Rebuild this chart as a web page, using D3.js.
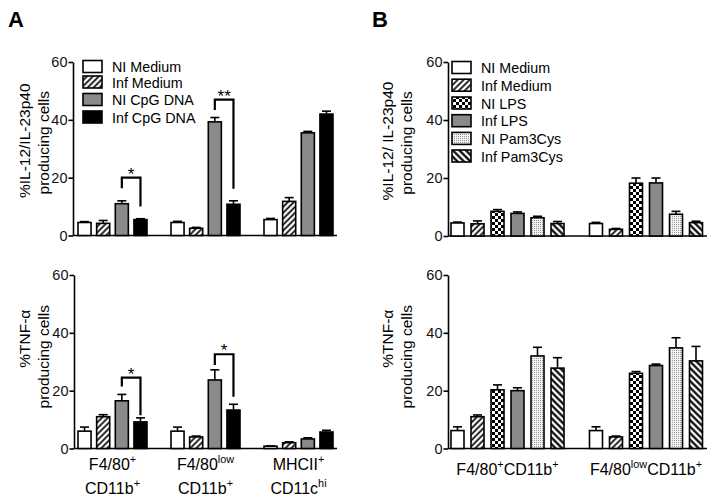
<!DOCTYPE html>
<html><head><meta charset="utf-8">
<script src="https://cdn.jsdelivr.net/npm/d3@7"></script>
<style>
html,body{margin:0;padding:0;background:#fff;}
svg{display:block;font-family:"Liberation Sans",Arial,Helvetica,sans-serif;}
</style></head>
<body><div id="chart"></div>
<script>
// ---------- DATA ----------
const yTicks = [0, 20, 40, 60];

const seriesA = ["NI Medium", "Inf Medium", "NI CpG DNA", "Inf CpG DNA"];
const fillsA = ["white", "hatchF", "grey", "black"];
const groupsA = ["F4/80+ CD11b+", "F4/80low CD11b+", "MHCII+ CD11chi"];
const groupLabelsA = [
  [[["F4/80",""],["+","sup"]], [["CD11b",""],["+","sup"]]],
  [[["F4/80",""],["low","sup"]], [["CD11b",""],["+","sup"]]],
  [[["MHCII",""],["+","sup"]], [["CD11c",""],["hi","sup"]]]
];
// per group, per series
const il12A_mean = [[4.5, 4.2, 11.0, 5.5], [4.5, 2.5, 39.3, 10.8], [5.5, 11.8, 35.5, 42.0]];
const il12A_err  = [[0.3, 1.0, 1.0, 0.3], [0.4, 0.3, 1.5, 1.2], [0.4, 1.3, 0.5, 1.0]];
const tnfA_mean  = [[6.0, 11.0, 16.5, 9.2], [6.0, 4.0, 23.7, 13.3], [0.8, 2.0, 3.3, 5.7]];
const tnfA_err   = [[1.4, 0.7, 2.2, 1.4], [1.4, 0.3, 3.5, 2.0], [0.1, 0.3, 0.4, 0.6]];
// significance brackets: group, bar a, bar b, top, left-leg end, right-leg end, label
const il12A_sig = [[0, 2, 3, 20.0, 16.3, 10.0, "*"], [1, 2, 3, 47.0, 43.4, 16.2, "**"]];
const tnfA_sig  = [[0, 2, 3, 24.5, 21.4, 11.5, "*"], [1, 2, 3, 32.6, 28.9, 17.9, "*"]];

const seriesB = ["NI Medium", "Inf Medium", "NI LPS", "Inf LPS", "NI Pam3Cys", "Inf Pam3Cys"];
const fillsB = ["white", "hatchF", "checker", "grey", "dots", "hatchB"];
const groupsB = ["F4/80+CD11b+", "F4/80lowCD11b+"];
const groupLabelsB = [
  [[["F4/80",""],["+","sup"],["CD11b",""],["+","sup"]]],
  [[["F4/80",""],["low","sup"],["CD11b",""],["+","sup"]]]
];
const il12B_mean = [[4.5, 4.2, 8.5, 7.8, 6.3, 4.3], [4.3, 2.3, 18.2, 18.3, 7.5, 4.6]];
const il12B_err  = [[0.3, 1.0, 0.6, 0.5, 0.5, 0.7], [0.4, 0.3, 1.8, 1.7, 1.0, 0.5]];
const tnfB_mean  = [[6.2, 11.0, 20.3, 20.0, 32.0, 27.8], [6.2, 4.0, 26.0, 28.7, 34.8, 30.3]];
const tnfB_err   = [[1.3, 0.6, 1.7, 1.0, 3.0, 3.6], [1.3, 0.3, 0.6, 0.5, 3.5, 5.0]];

// ---------- DRAW ----------
const W = 713, H = 500;
const svg = d3.select("#chart").append("svg").attr("width", W).attr("height", H);
const defs = svg.append("defs");

function hatch(id, angle, size, sw) {
  const p = defs.append("pattern").attr("id", id).attr("patternUnits", "userSpaceOnUse")
    .attr("width", size).attr("height", size).attr("patternTransform", `rotate(${angle})`);
  p.append("rect").attr("width", size).attr("height", size).attr("fill", "white");
  p.append("line").attr("x1", size / 2).attr("x2", size / 2).attr("y1", -1).attr("y2", size + 1)
    .attr("stroke", "black").attr("stroke-width", sw);
}
hatch("hatchF", 45, 4.2, 1.7);
hatch("hatchB", -45, 4.6, 2.2);
{
  const p = defs.append("pattern").attr("id", "checker").attr("patternUnits", "userSpaceOnUse")
    .attr("width", 6).attr("height", 6);
  p.append("rect").attr("width", 6).attr("height", 6).attr("fill", "white");
  p.append("rect").attr("width", 3).attr("height", 3).attr("fill", "black");
  p.append("rect").attr("x", 3).attr("y", 3).attr("width", 3).attr("height", 3).attr("fill", "black");
}
{
  const p = defs.append("pattern").attr("id", "dots").attr("patternUnits", "userSpaceOnUse")
    .attr("width", 2).attr("height", 2);
  p.append("rect").attr("width", 2).attr("height", 2).attr("fill", "#f2f2f2");
  p.append("rect").attr("width", 1).attr("height", 1).attr("fill", "#9a9a9a");
}
function fillOf(k) {
  if (k === "white") return "white";
  if (k === "grey") return "#8a8a8a";
  if (k === "black") return "black";
  return `url(#${k})`;
}

function richText(sel, parts, fs) {
  let prevSup = false;
  parts.forEach(([t, kind]) => {
    if (kind === "sup") {
      sel.append("tspan").attr("font-size", fs * 0.68).attr("dy", -fs * 0.42).text(t);
      prevSup = true;
    } else {
      sel.append("tspan").attr("font-size", fs).attr("dy", prevSup ? fs * 0.42 : 0).text(t);
      prevSup = false;
    }
  });
}

function panel(o) {
  const g = svg.append("g");
  const y = d3.scaleLinear().domain([0, 60]).range([o.yBot, o.yTop]);
  const xg = d3.scaleBand().domain(o.groups).range(o.groupRange).paddingInner(o.padOuter).paddingOuter(0);
  const xs = d3.scaleBand().domain(o.series).range([0, xg.bandwidth()]).paddingInner(o.padInner).paddingOuter(0);

  // y axis
  const ax = g.append("g").attr("transform", `translate(${o.x0},0)`)
    .call(d3.axisLeft(y).tickValues(yTicks).tickSize(4.5).tickSizeOuter(0).tickPadding(1));
  ax.select(".domain").attr("stroke", "black").attr("stroke-width", 1.6);
  ax.selectAll(".tick line").attr("stroke", "black").attr("stroke-width", 1.6);
  ax.selectAll(".tick text").attr("font-size", 14.5).attr("fill", "#111")
    .attr("font-family", "Liberation Sans, Arial, sans-serif");
  // x axis line
  g.append("line").attr("x1", o.x0).attr("x2", o.x1).attr("y1", y(0)).attr("y2", y(0))
    .attr("stroke", "black").attr("stroke-width", 1.6);

  // bars
  o.groups.forEach((grp, gi) => {
    o.series.forEach((s, si) => {
      const v = o.mean[gi][si], e = o.err[gi][si];
      const bx = xg(grp) + xs(s), bw = xs.bandwidth();
      const cx = bx + bw / 2;
      g.append("line").attr("x1", cx).attr("x2", cx).attr("y1", y(v)).attr("y2", y(v + e))
        .attr("stroke", "black").attr("stroke-width", 1.6);
      g.append("line").attr("x1", cx - 4.5).attr("x2", cx + 4.5).attr("y1", y(v + e)).attr("y2", y(v + e))
        .attr("stroke", "black").attr("stroke-width", 1.6);
      g.append("rect").attr("x", bx).attr("y", y(v)).attr("width", bw).attr("height", y(0) - y(v))
        .attr("fill", fillOf(o.fills[si])).attr("stroke", "black").attr("stroke-width", 1.6);
    });
  });

  // significance brackets
  (o.sig || []).forEach(([gi, a, b, top, le, re, lab]) => {
    const grp = o.groups[gi];
    const xa = xg(grp) + xs(o.series[a]) + xs.bandwidth() / 2;
    const xb = xg(grp) + xs(o.series[b]) + xs.bandwidth() / 2;
    g.append("path").attr("d", `M${xa},${y(le)}V${y(top)}H${xb}V${y(re)}`)
      .attr("fill", "none").attr("stroke", "black").attr("stroke-width", 2.2);
    g.append("text").attr("x", (xa + xb) / 2).attr("y", y(top) + 2).attr("text-anchor", "middle")
      .attr("font-size", 17).text(lab);
  });

  // y label
  const yc = (o.yTop + o.yBot) / 2;
  o.ylab.forEach(([t, dx, dyc]) => {
    g.append("text").attr("transform", `translate(${dx},${yc + dyc}) rotate(-90)`)
      .attr("text-anchor", "middle").attr("font-size", 15.5).text(t);
  });

  // x labels
  if (o.xlabels) {
    o.groups.forEach((grp, gi) => {
      const cx = xg(grp) + xg.bandwidth() / 2;
      o.xlabels[gi].forEach((line, li) => {
        const t = g.append("text").attr("x", cx).attr("y", o.xlabY[li]).attr("text-anchor", "middle");
        richText(t, line, 16);
      });
    });
  }

  // legend
  if (o.legend) {
    o.series.forEach((s, si) => {
      const ly = o.legend.y[si];
      g.append("rect").attr("x", o.legend.x).attr("y", ly - 6).attr("width", 19).attr("height", 12)
        .attr("fill", fillOf(o.fills[si])).attr("stroke", "black").attr("stroke-width", 1.6);
      g.append("text").attr("x", o.legend.x + 29).attr("y", ly + 5.5).attr("font-size", 14.3).text(s);
    });
  }
}

// Panel A top
panel({
  x0: 73, x1: 337, yTop: 62, yBot: 235.5,
  groups: groupsA, series: seriesA, fills: fillsA,
  groupRange: [78, 333], padOuter: 0.258, padInner: 0.30,
  mean: il12A_mean, err: il12A_err, sig: il12A_sig,
  ylab: [["%IL-12/IL-23p40", 30, -8], ["producing cells", 49, -6]],
  legend: { x: 83, y: [66.5, 82, 99.5, 117] }
});
// Panel A bottom
panel({
  x0: 74, x1: 337, yTop: 275, yBot: 448.5,
  groups: groupsA, series: seriesA, fills: fillsA,
  groupRange: [78, 333], padOuter: 0.258, padInner: 0.30,
  mean: tnfA_mean, err: tnfA_err, sig: tnfA_sig,
  ylab: [["%TNF-α", 30, -23], ["producing cells", 49, -5]],
  xlabels: groupLabelsA, xlabY: [470, 494]
});
// Panel B top
panel({
  x0: 448, x1: 707, yTop: 62, yBot: 236,
  groups: groupsB, series: seriesB, fills: fillsB,
  groupRange: [451, 702.5], padOuter: 0.184, padInner: 0.35,
  mean: il12B_mean, err: il12B_err,
  ylab: [["%IL-12/ IL-23p40", 393, -8], ["producing cells", 412, -6]],
  legend: { x: 452, y: [67.5, 85.2, 103, 120.7, 138.4, 156] }
});
// Panel B bottom
panel({
  x0: 448, x1: 707, yTop: 275, yBot: 448.5,
  groups: groupsB, series: seriesB, fills: fillsB,
  groupRange: [451, 702.5], padOuter: 0.184, padInner: 0.35,
  mean: tnfB_mean, err: tnfB_err,
  ylab: [["%TNF-α", 393, -23], ["producing cells", 412, -5]],
  xlabels: groupLabelsB, xlabY: [475]
});

svg.append("text").attr("x", 8).attr("y", 27).attr("font-size", 22).attr("font-weight", "bold").text("A");
svg.append("text").attr("x", 372).attr("y", 27).attr("font-size", 22).attr("font-weight", "bold").text("B");
</script></body></html>
